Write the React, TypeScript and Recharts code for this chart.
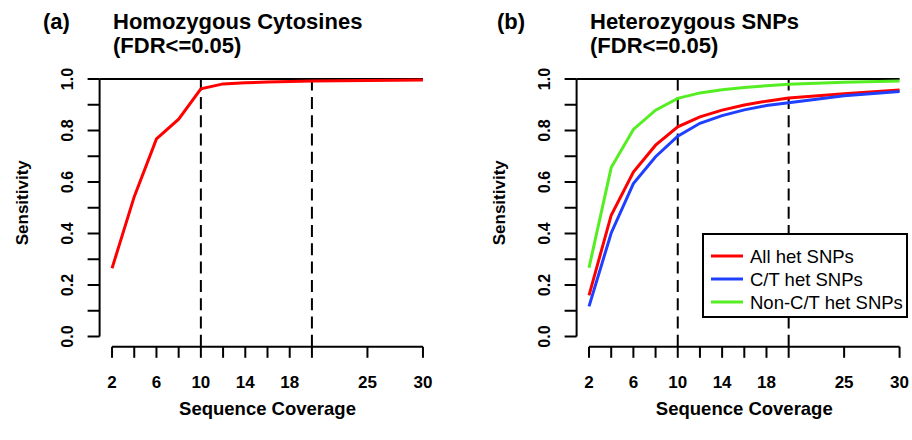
import React from "react";
import {
  LineChart,
  Line,
  XAxis,
  YAxis,
  ReferenceLine,
  Legend,
} from "recharts";

const FONT = '"Liberation Sans", Arial, Helvetica, sans-serif';

// coverage levels on the x axis
const coverage = [2, 4, 6, 8, 10, 12, 14, 16, 18, 20, 25, 30];
const xTicks = [2, 4, 6, 8, 10, 12, 14, 16, 18, 20, 25, 30];
const xLabelled = [2, 6, 10, 14, 18, 25, 30];
const yTicks = [0, 0.1, 0.2, 0.3, 0.4, 0.5, 0.6, 0.7, 0.8, 0.9, 1];
const cutoffs = [10, 20];

// sensitivity values
const homozygousCytosines = [0.265, 0.543, 0.767, 0.844, 0.962, 0.981, 0.985, 0.988, 0.99, 0.992, 0.994, 0.996];
const allHetSnps = [0.16, 0.471, 0.639, 0.743, 0.814, 0.853, 0.879, 0.899, 0.914, 0.926, 0.943, 0.957];
const ctHetSnps = [0.117, 0.402, 0.594, 0.698, 0.778, 0.828, 0.858, 0.88, 0.897, 0.908, 0.935, 0.951];
const nonCtHetSnps = [0.267, 0.656, 0.804, 0.879, 0.925, 0.946, 0.958, 0.967, 0.974, 0.98, 0.987, 0.992];

const leftData = coverage.map((x, i) => ({ x, homo: homozygousCytosines[i] }));
const rightData = coverage.map((x, i) => ({
  x,
  all: allHetSnps[i],
  ct: ctHetSnps[i],
  nonct: nonCtHetSnps[i],
}));

const leftSeries = [{ key: "homo", name: "Homozygous Cytosines", color: "#ff0000" }];
const rightSeries = [
  { key: "all", name: "All het SNPs", color: "#ff0000" },
  { key: "ct", name: "C/T het SNPs", color: "#2040ff" },
  { key: "nonct", name: "Non-C/T het SNPs", color: "#55ee22" },
];

const X_DOMAIN: [number, number] = [0.88, 31.12];
const Y_DOMAIN: [number, number] = [-0.04, 1.04];

function XTick(props: any) {
  const { x, y, payload } = props;
  if (!xLabelled.includes(payload.value)) return <g />;
  return (
    <text x={x} y={y + 30} textAnchor="middle" fontSize={17} fontWeight="bold" fontFamily={FONT} fill="#000">
      {payload.value}
    </text>
  );
}

function YTick(props: any) {
  const { x, y, payload } = props;
  const v = payload.value as number;
  if (Math.round(v * 10) % 2 !== 0) return <g />;
  const bx = x - 15;
  return (
    <text
      x={bx}
      y={y}
      transform={`rotate(-90, ${bx}, ${y})`}
      textAnchor="middle"
      fontSize={16}
      fontWeight="bold"
      fontFamily={FONT}
      fill="#000"
    >
      {v.toFixed(1)}
    </text>
  );
}

function LegendBox() {
  return (
    <svg width={206} height={85} style={{ display: "block" }}>
      <rect x={1} y={1} width={204} height={83} fill="#fff" stroke="#000" strokeWidth={2} />
      {rightSeries.map((s, i) => {
        const cy = 23 + i * 23;
        return (
          <g key={s.key}>
            <line x1={9} x2={41} y1={cy} y2={cy} stroke={s.color} strokeWidth={3} />
            <text x={48} y={cy + 6.6} fontSize={18.5} fontFamily={FONT} fill="#000">
              {s.name}
            </text>
          </g>
        );
      })}
    </svg>
  );
}

function Panel({ data, series, legend, marginLeft, marginRight }: any) {
  return (
    <LineChart
      width={456}
      height={440}
      data={data}
      margin={{ top: 68.7, right: marginRight, bottom: 63.2, left: marginLeft }}
    >
      <XAxis
        dataKey="x"
        type="number"
        domain={X_DOMAIN}
        ticks={xTicks}
        interval={0}
        allowDataOverflow
        axisLine={false}
        tickLine={{ stroke: "#000", strokeWidth: 2 }}
        tickSize={11}
        tickMargin={0}
        height={30}
        tick={<XTick />}
        label={{
          content: (p: any) => {
            const vb = p.viewBox || { x: 0, y: 0, width: 0 };
            return (
              <text
                x={vb.x + vb.width / 2}
                y={vb.y + 68.2}
                textAnchor="middle"
                fontSize={18.5}
                fontWeight="bold"
                fontFamily={FONT}
                fill="#000"
              >
                Sequence Coverage
              </text>
            );
          },
        }}
      />
      <YAxis
        type="number"
        domain={Y_DOMAIN}
        ticks={yTicks}
        interval={0}
        allowDataOverflow
        axisLine={false}
        tickLine={{ stroke: "#000", strokeWidth: 2 }}
        tickSize={12}
        tickMargin={0}
        width={60}
        tick={<YTick />}
        label={{
          content: (p: any) => {
            const vb = p.viewBox || { x: 0, y: 0, width: 0, height: 0 };
            const bx = vb.x + vb.width - 72;
            const cy = vb.y + vb.height / 2 - 5;
            return (
              <text
                x={bx}
                y={cy}
                transform={`rotate(-90, ${bx}, ${cy})`}
                textAnchor="middle"
                fontSize={17}
                fontWeight="bold"
                fontFamily={FONT}
                fill="#000"
              >
                Sensitivity
              </text>
            );
          },
        }}
      />
      {/* axis lines that only span the data range, like base R */}
      <ReferenceLine segment={[{ x: 2, y: -0.04 }, { x: 30, y: -0.04 }]} stroke="#000" strokeWidth={2} />
      <ReferenceLine segment={[{ x: 0.88, y: 0 }, { x: 0.88, y: 1 }]} stroke="#000" strokeWidth={2} />
      <ReferenceLine segment={[{ x: 0.88, y: 1 }, { x: 30, y: 1 }]} stroke="#000" strokeWidth={2} />
      {cutoffs.map((c) => (
        <ReferenceLine
          key={c}
          segment={[{ x: c, y: -0.04 }, { x: c, y: 1 }]}
          stroke="#000"
          strokeWidth={2}
          strokeDasharray="12 6.3"
        />
      ))}
      {series.map((s: any) => (
        <Line
          key={s.key}
          dataKey={s.key}
          name={s.name}
          type="linear"
          stroke={s.color}
          strokeWidth={3}
          dot={false}
          activeDot={false}
          isAnimationActive={false}
        />
      ))}
      {legend && (
        <Legend
          layout="vertical"
          align="center"
          verticalAlign="middle"
          content={<LegendBox />}
          wrapperStyle={{ left: 246, top: 233, width: 206, height: 85 }}
        />
      )}
    </LineChart>
  );
}

const titleStyle = { fontSize: 22, fontWeight: "bold" as const, fontFamily: FONT, fill: "#000" };

export default function App() {
  return (
    <div style={{ position: "absolute", left: 0, top: 0, width: 912, height: 440, background: "#fff" }}>
      <div style={{ display: "flex" }}>
        <Panel data={leftData} series={leftSeries} legend={false} marginLeft={39.6} marginRight={20.6} />
        <Panel data={rightData} series={rightSeries} legend={true} marginLeft={60.6} marginRight={0} />
      </div>
      <svg
        width={912}
        height={440}
        style={{ position: "absolute", left: 0, top: 0, pointerEvents: "none" }}
      >
        <text x={43} y={29} {...titleStyle}>(a)</text>
        <text x={113} y={29} {...titleStyle}>Homozygous Cytosines</text>
        <text x={113} y={53} {...titleStyle}>(FDR&lt;=0.05)</text>
        <text x={497} y={29} {...titleStyle}>(b)</text>
        <text x={590} y={29} {...titleStyle}>Heterozygous SNPs</text>
        <text x={590} y={53} {...titleStyle}>(FDR&lt;=0.05)</text>
      </svg>
    </div>
  );
}
